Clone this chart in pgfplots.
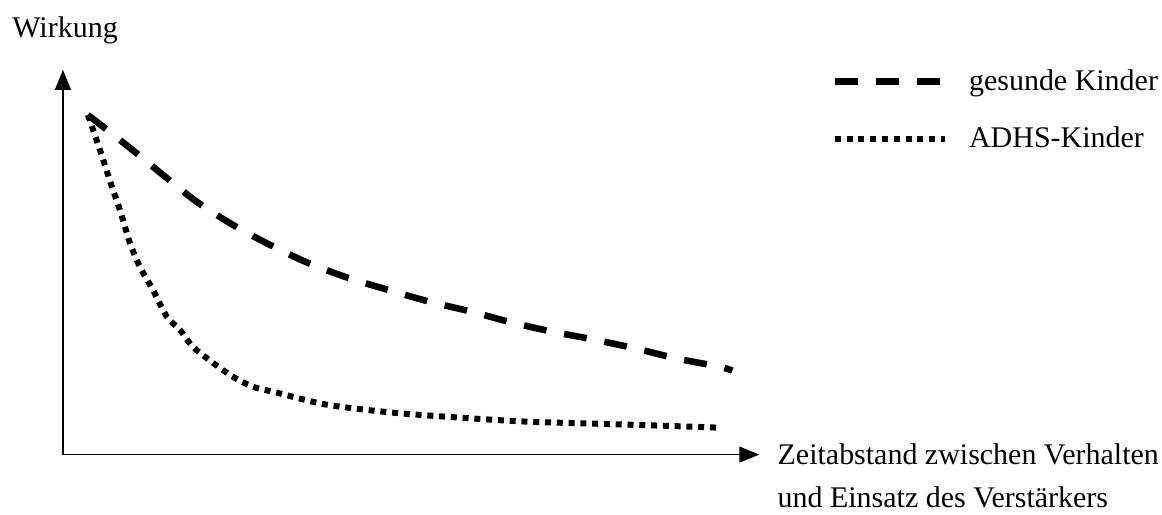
\documentclass[border=0pt]{standalone}
\usepackage{pgfplots}
\pgfplotsset{compat=1.18}
\usepackage{fontspec}
\setmainfont{Liberation Serif}
\usetikzlibrary{arrows.meta}
\begin{document}
\begin{tikzpicture}[font=\fontsize{15pt}{18pt}\selectfont]
\begin{axis}[
  scale only axis,
  width=348.5pt, height=192.5pt,
  xmin=0, xmax=697, ymin=0, ymax=385,
  axis lines=left,
  axis line style={line width=0.7pt},
  x axis line style={-{Triangle[length=10pt,width=8pt]}},
  y axis line style={-{Triangle[length=10pt,width=8pt]}},
  xtick=\empty, ytick=\empty,
  clip=false,
  legend cell align=left,
  legend style={draw=none, fill=none, at={(axis cs:769,390)}, anchor=north west,
    inner sep=0pt, row sep=13pt, font=\fontsize{15pt}{18pt}\selectfont,
    /tikz/every odd column/.append style={column sep=8.5pt}},
  legend image code/.code={\draw[#1] (0pt,0pt) -- (55pt,0pt);},
]
\addplot[black, line width=3.3pt, dash pattern=on 11.5pt off 9pt, smooth, tension=0.5] coordinates {
(25,340)(67,307)(100,280)(134,253)(170,230)(207,210)(245,192)(285,177)(325,165)(367,153)(409,143)(450,132)(490,123)(532,115)(574,106)(615,96)(657,88)(670,84)};
\addlegendentry{gesunde Kinder}
\addplot[black, line width=3pt, dash pattern=on 3pt off 2.9pt, smooth, tension=0.5] coordinates {
(25,340)(37,305)(49,268)(57,245)(67,212)(77,188)(90,165)(104,138)(117,125)(130,108)(150,92)(170,78)(190,68)(214,62)(264,50)(330,42)(397,37)(464,33)(530,31)(597,29)(655,27)};
\addlegendentry{ADHS-Kinder}
\node[anchor=west, inner sep=0pt] at (axis cs:-51,425) {Wirkung};
\node[anchor=west, inner sep=0pt] at (axis cs:715,0) {Zeitabstand zwischen Verhalten};
\node[anchor=west, inner sep=0pt] at (axis cs:715,-43) {und Einsatz des Verstärkers};
\path[use as bounding box] (axis cs:-63,455) rectangle (axis cs:1099,-60);
\end{axis}
\end{tikzpicture}
\end{document}
